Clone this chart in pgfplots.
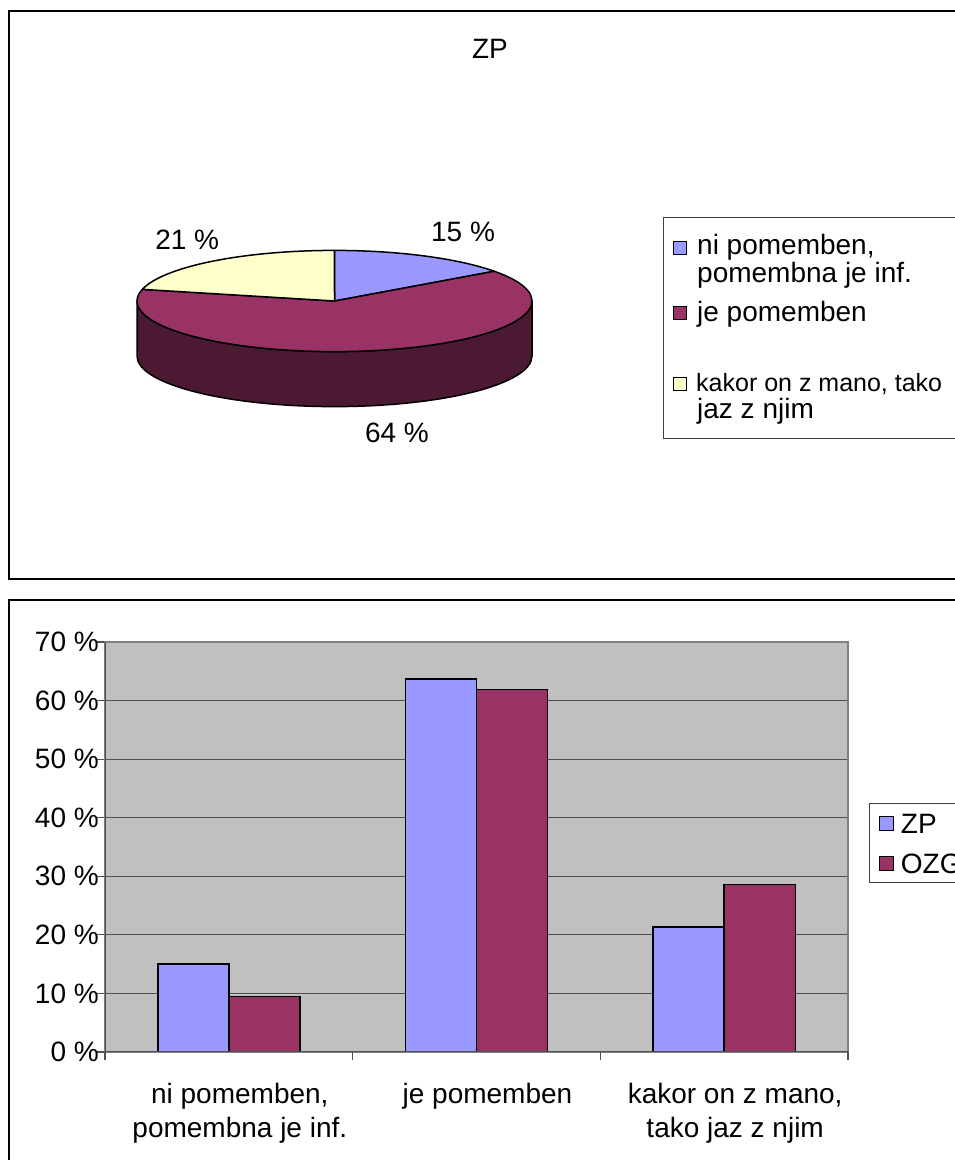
\documentclass[border=0pt]{standalone}
\usepackage{fontspec}
\setmainfont{Liberation Sans}
\usepackage{pgfplots}
\usepackage{pgfplotstable}
\pgfplotsset{compat=1.18}
\pgfkeys{/pgf/number format/assume math mode=true}

\definecolor{zpblue}{RGB}{153,153,255}
\definecolor{ozgplum}{RGB}{153,51,102}
\definecolor{paleyellow}{RGB}{255,255,204}
\definecolor{wallgray}{RGB}{192,192,192}
\definecolor{gridgray}{RGB}{80,80,80}
\definecolor{rimgray}{RGB}{128,128,128}

% Shares of answers (%) for the two groups
\pgfplotstableread{
idx ZP   OZG
0   15.0 9.5
1   63.7 61.9
2   21.3 28.6
}\answers

% Pie geometry (pt): centre and radii of the top ellipse, depth of the rim
\def\cx{334.5}\def\cy{301}\def\rx{197.5}\def\ry{50.6}\def\dep{55}

\pgfplotstablegetelem{0}{ZP}\of\answers\edef\vA{\pgfplotsretval}
\pgfplotstablegetelem{1}{ZP}\of\answers\edef\vB{\pgfplotsretval}
\pgfplotstablegetelem{2}{ZP}\of\answers\edef\vC{\pgfplotsretval}
\pgfmathsetmacro\total{\vA+\vB+\vC}
% slices run clockwise from 12 o'clock
\pgfmathsetmacro\aA{90}
\pgfmathsetmacro\aB{\aA-\vA/\total*360}
\pgfmathsetmacro\aC{\aB-\vB/\total*360}
\pgfmathsetmacro\aD{\aC-\vC/\total*360}
% part of each slice that lies on the front rim, i.e. within [-180,0]
\pgfmathsetmacro\hiA{min(\aA,0)}\pgfmathsetmacro\loA{max(\aB,-180)}\pgfmathtruncatemacro\showA{\hiA>\loA}
\pgfmathsetmacro\hiB{min(\aB,0)}\pgfmathsetmacro\loB{max(\aC,-180)}\pgfmathtruncatemacro\showB{\hiB>\loB}
\pgfmathsetmacro\hiC{min(\aC,0)}\pgfmathsetmacro\loC{max(\aD,-180)}\pgfmathtruncatemacro\showC{\hiC>\loC}
% label positions, outside each slice at its middle angle
\pgfmathsetmacro\mA{(\aA+\aB)/2}\pgfmathsetmacro\mB{(\aB+\aC)/2}\pgfmathsetmacro\mC{(\aC+\aD)/2}
\pgfmathsetmacro\lxA{\cx+12+1.3*\rx*cos(\mA)}\pgfmathsetmacro\lyA{\cy-1.54*\ry*sin(\mA)+(sin(\mA)<0)*\dep}
\pgfmathsetmacro\lxB{\cx+12+1.3*\rx*cos(\mB)}\pgfmathsetmacro\lyB{\cy-1.54*\ry*sin(\mB)+(sin(\mB)<0)*\dep}
\pgfmathsetmacro\lxC{\cx+12+1.3*\rx*cos(\mC)}\pgfmathsetmacro\lyC{\cy-1.54*\ry*sin(\mC)+(sin(\mC)<0)*\dep}

% top face of a slice: #1 start angle, #2 end angle, #3 colour
\newcommand\pietop[3]{%
  \filldraw[fill=#3,draw=black,line width=1.5pt,line join=round]
    (axis cs:\cx,\cy) -- ++({\rx*cos(#1)*1pt},{\ry*sin(#1)*1pt})
    arc[start angle=#1,end angle=#2,x radius=\rx pt,y radius=\ry pt] -- cycle;}
% front rim of a slice
\newcommand\pierim[3]{%
  \filldraw[fill=#3!50!black,draw=black,line width=1.5pt,line join=round]
    (axis cs:\cx,\cy) ++({\rx*cos(#1)*1pt},{\ry*sin(#1)*1pt}) -- ++(0pt,-\dep pt)
    arc[start angle=#1,end angle=#2,x radius=\rx pt,y radius=\ry pt] -- ++(0pt,\dep pt)
    arc[start angle=#2,end angle=#1,x radius=\rx pt,y radius=\ry pt] -- cycle;}
\newcommand\pct[1]{\pgfmathprintnumber[fixed,precision=0]{#1}\ \%}

\begin{document}
\begin{tikzpicture}[font=\fontsize{28}{34}\selectfont]
\path[use as bounding box,clip] (0pt,0pt) rectangle (955pt,1160pt);

% page layer: frames and the 3-D pie (coordinates in pt, measured from the top)
\begin{axis}[
  at={(0pt,0pt)}, anchor=south west, scale only axis,
  width=955pt, height=1160pt,
  xmin=0, xmax=955, ymin=0, ymax=1160, y dir=reverse,
  enlargelimits=false, hide axis, clip=false]
  \draw[line width=2pt] (axis cs:9,11) rectangle (axis cs:1010,579);
  \draw[line width=2pt] (axis cs:9,600) rectangle (axis cs:1010,1210);
  \node[anchor=base] at (axis cs:490,58) {ZP};
  \ifnum\showA=1 \pierim{\hiA}{\loA}{zpblue}\fi
  \ifnum\showB=1 \pierim{\hiB}{\loB}{ozgplum}\fi
  \ifnum\showC=1 \pierim{\hiC}{\loC}{paleyellow}\fi
  \pietop{\aA}{\aB}{zpblue}
  \pietop{\aB}{\aC}{ozgplum}
  \pietop{\aC}{\aD}{paleyellow}
  \node at (axis cs:\lxA,\lyA) {\pct{\vA}};
  \node at (axis cs:\lxB,\lyB) {\pct{\vB}};
  \node at (axis cs:\lxC,\lyC) {\pct{\vC}};
  % legend of the pie
  \draw[line width=0.8pt,draw=black!75] (axis cs:663,217) rectangle (axis cs:1010,438);
  \filldraw[fill=zpblue,draw=black,line width=1pt] (axis cs:673,241) rectangle (axis cs:686,254);
  \node[anchor=base west,inner sep=0pt] at (axis cs:697,254) {ni pomemben,};
  \node[anchor=base west,inner sep=0pt] at (axis cs:697,282) {pomembna je inf.};
  \filldraw[fill=ozgplum,draw=black,line width=1pt] (axis cs:673,306) rectangle (axis cs:686,319);
  \node[anchor=base west,inner sep=0pt] at (axis cs:697,321) {je pomemben};
  \filldraw[fill=paleyellow,draw=black,line width=1pt] (axis cs:673,377) rectangle (axis cs:686,390);
  \node[anchor=base west,inner sep=0pt,font=\fontsize{25}{30}\selectfont] at (axis cs:696,391) {kakor on z mano, tako};
  \node[anchor=base west,inner sep=0pt] at (axis cs:697,418) {jaz z njim};
\end{axis}

% grouped bars: ZP against OZG
\begin{axis}[
  at={(105pt,108pt)}, anchor=south west, scale only axis,
  width=743pt, height=410pt,
  xmin=-0.5, xmax=2.5, ymin=0, ymax=70, enlargelimits=false,
  ybar=0pt, bar width=0.287,
  axis background/.style={fill=wallgray},
  axis line style={draw=rimgray,line width=1.3pt},
  ymajorgrids, grid style={gridgray,line width=1.2pt},
  ytick={0,10,...,70},
  yticklabel={\pgfmathprintnumber{\tick}\ \%},
  xtick={0,1,2},
  xticklabels={{ni pomemben,\\pomembna je inf.},{je pomemben},{kakor on z mano,\\tako jaz z njim}},
  tick align=outside, xtick pos=bottom, ytick pos=left,
  major tick length=8pt,
  tick style={gridgray,line width=1.2pt},
  major x tick style={draw=none},
  extra x ticks={-0.5,0.5,1.5,2.5}, extra x tick labels={},
  extra x tick style={grid=none,major x tick style={draw=gridgray,line width=1.2pt}},
  tick label style={font=\fontsize{28}{34}\selectfont},
  yticklabel style={inner sep=0pt,xshift=2pt},
  xticklabel style={align=center,inner sep=0pt,yshift=-23pt,xshift=11pt},
  legend style={at={(1.0283,0.6073)}, anchor=north west,
    draw=black!75, line width=0.8pt, fill=white,
    font=\fontsize{28}{34}\selectfont,
    inner xsep=10pt, inner ysep=6pt, row sep=13pt,
    nodes={inner sep=3pt,text height=21pt,text depth=0pt},
    cells={anchor=west}},
]
  \addplot[fill=zpblue,draw=black,line width=1.5pt,
    legend image code/.code={\path[draw=none,fill=none] (0pt,0pt) rectangle (18pt,0.1pt);
      \draw[fill=zpblue,draw=black,line width=1pt] (0pt,-8pt) rectangle (14pt,6pt);}]
    table[x=idx,y=ZP] {\answers};
  \addplot[fill=ozgplum,draw=black,line width=1.5pt,
    legend image code/.code={\path[draw=none,fill=none] (0pt,0pt) rectangle (18pt,0.1pt);
      \draw[fill=ozgplum,draw=black,line width=1pt] (0pt,-8pt) rectangle (14pt,6pt);}]
    table[x=idx,y=OZG] {\answers};
  \legend{ZP,OZG}
  \draw[gridgray,line width=1.4pt] (rel axis cs:0,1) -- (rel axis cs:0,0) -- (rel axis cs:1,0);
\end{axis}
\end{tikzpicture}
\end{document}
